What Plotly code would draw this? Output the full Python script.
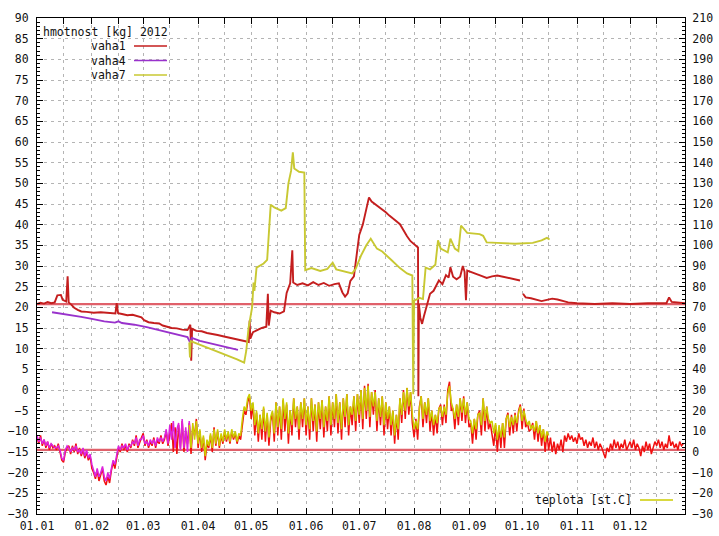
import pandas as pd
import plotly.graph_objects as go

START = pd.Timestamp("2012-01-01")
END = pd.Timestamp("2013-01-01")

# ---- hive weights [kg], left axis (day of year -> kg) ----
w1_day = [0, 2, 4, 6, 8, 10, 11.5, 13.5, 14.5, 16.5, 17.3, 17.9, 19.5, 21, 23, 25, 28, 32, 36, 40,
          44.3, 45.0, 45.8, 48, 51, 54, 57, 59, 60.5, 63, 66, 69, 71, 73, 76, 79, 82, 85, 86.6, 87.1,
          87.6, 90, 93, 96, 99, 102, 105, 108, 111, 114, 117, 119.6, 120.1, 120.5, 122, 124.5, 127,
          129.5, 130.4, 130.9, 132, 134, 137, 139.5, 141, 143, 144.2, 144.7, 147, 150, 153, 156, 159,
          162, 165, 168, 170.5, 172.5, 174, 175.5, 177, 179, 180.5, 182, 184, 186, 187.5, 189, 191,
          193, 195, 197, 199, 201, 203, 205, 207, 209, 211, 213, 215.2, 215.4, 215.7, 216.5, 217.5,
          218.5, 219.5, 221, 222, 224, 225, 227, 229, 231, 232.5, 233.5, 235, 237, 239, 240.5, 241.5,
          242.3, 243, 245, 248, 251, 254, 257, 260, 263, 266, 269, 272.8, 273.6, 274.5, 276, 279, 282,
          285, 288, 291, 294, 297, 300, 305, 315, 325, 335, 345, 355.5, 357, 358.5, 366]
w1_kg = [20.8, 21.1, 20.9, 21.3, 21.0, 21.2, 22.9, 23.0, 21.8, 21.4, 27.5, 21.2, 20.6, 19.9, 19.4, 19.0,
         18.9, 18.7, 18.8, 18.6, 18.5, 21.0, 18.6, 18.4, 18.1, 18.2, 17.9, 17.6, 16.9, 16.4, 16.2, 16.1,
         15.6, 15.3, 15.0, 14.9, 14.6, 14.5, 15.8, 7.1, 14.8, 14.3, 14.2, 13.8, 13.6, 13.3, 13.0, 12.7,
         12.4, 12.0, 11.7, 11.6, 16.8, 12.4, 14.0, 14.6, 15.0, 15.3, 23.3, 15.6, 19.2, 18.8, 18.5, 19.0,
         23.5, 25.8, 33.8, 26.0, 25.4, 25.8, 25.3, 26.1, 25.4, 25.9, 25.2, 25.6, 25.8, 23.6, 22.6, 23.4,
         26.4, 27.5, 32.0, 37.5, 40.0, 44.0, 46.6, 45.6, 45.0, 44.2, 43.6, 43.0, 42.2, 41.6, 40.8, 40.1,
         38.6, 37.2, 36.0, 35.2, 34.5, -1.5, 20.8, 17.5, 16.0, 17.8, 19.3, 21.5, 23.3, 24.0, 24.8, 26.5,
         25.6, 27.8, 27.2, 29.7, 27.4, 26.8, 27.4, 30.0, 28.6, 21.7, 28.9, 28.6, 28.2, 27.6, 27.1, 27.5,
         27.7, 27.4, 27.0, 26.8, 26.5, None, 23.3, 22.4, 22.2, 21.9, 21.5, 21.8, 22.1, 21.9, 21.5, 21.2,
         21.0, 20.8, 21.0, 20.8, 21.0, 21.0, 22.4, 21.3, 21.0]

w4_day = [8.5, 12, 18, 25, 31, 38, 44, 46, 48, 55, 62, 68, 74, 80, 85, 86.4, 87.5, 92, 98, 104, 110, 113.5]
w4_kg = [18.8, 18.6, 18.2, 17.7, 17.2, 16.6, 16.3, 16.6, 16.2, 15.8, 15.2, 14.6, 14.0, 13.4, 12.8, 11.6,
         12.6, 11.9, 11.3, 10.7, 10.1, 9.7]

w7_day = [86.0, 86.4, 86.8, 88, 92, 97, 103, 108, 113, 117, 118.2, 119.5, 121.5, 122.3, 122.8, 124, 128,
          130, 132, 134, 138, 140.5, 142, 143.5, 144.5, 145.3, 148, 151, 151.5, 155, 160, 164, 167, 169,
          174, 178, 180, 183, 186, 188.5, 192, 195, 200, 205, 209, 212, 212.5, 213, 216, 218, 219.5, 222,
          225, 226.5, 228, 232, 233.5, 236, 238, 239.5, 243, 250, 252, 254, 260, 270, 280, 285, 288, 289.5]
w7_kg = [11.5, 7.9, 11.8, 11.6, 10.8, 10.0, 9.0, 8.2, 7.4, 6.6, 9.5, 15.0, 20.0, 26.0, 24.0, 29.6, 30.6,
         31.5, 44.8, 44.2, 43.4, 44.0, 50.0, 53.0, 57.5, 53.6, 52.8, 52.6, 29.0, 29.5, 28.8, 29.3, 30.8,
         29.2, 28.7, 28.2, 29.3, 32.5, 35.0, 36.6, 34.2, 33.5, 31.5, 29.5, 28.2, 27.7, -1.0, 21.6, 22.3,
         22.0, 29.6, 29.2, 30.3, 36.2, 34.2, 33.3, 36.6, 34.2, 33.6, 39.8, 38.0, 37.7, 37.3, 35.7, 35.6,
         35.4, 35.6, 36.2, 36.8, 36.4]

# reference levels on the weight axis
ref_levels = [20.8, -14.5]

# ---- temperatures [st.C], right axis, one reading per day ----
t1_start = 0
t1_c = [7, 4, 8, 3, 6, 2, 5, 1, 4, 2,
        3, 1, 4, 0, -4, -5, 0, 2, 3, -1,
        3, 0, 4, -1, 2, -2, 1, -3, 0, -4,
        -2, -8, -10, -13, -9, -14, -11, -8, -14, -16,
        -12, -15, -9, -5, -8, -3, 2, 0, 4, 1,
        3, 0, 4, 2, 6, 3, 8, 2, 5, 7,
        9, 3, 6, 2, 5, 3, 7, 2, 6, 4,
        8, 4, 6, 10, 3, 9, 14, 0, 12, -1,
        13, 2, 15, 0, 10, 4, 14, -1, 12, 8,
        16, 2, 10, 0, 7, -4, 4, 2, 8, 0,
        12, 3, 10, 2, 8, 4, 10, 5, 9, 4,
        10, 6, 9, 4, 8, 6, 14, 20, 18, 24,
        27, 16, 23, 8, 19, 5, 18, 6, 21, 5,
        18, 3, 15, 19, 5, 24, 8, 22, 6, 25,
        10, 23, 4, 20, 8, 26, 12, 22, 6, 24,
        12, 26, 8, 22, 6, 26, 10, 23, 5, 24,
        11, 25, 7, 22, 10, 27, 8, 24, 12, 28,
        9, 24, 6, 26, 12, 28, 8, 22, 13, 27,
        10, 28, 14, 30, 11, 32, 16, 33, 12, 29,
        18, 30, 10, 26, 13, 27, 8, 24, 11, 22,
        8, 20, 4, 18, 6, 26, 14, 30, 16, 31,
        18, 29, 14, 7, 16, 6, 22, 27, 12, 24,
        14, 26, 10, 20, 8, 18, 9, 21, 23, 13,
        23, 14, 30, 34, 20, 21, 11, 23, 13, 26,
        15, 27, 14, 24, 12, 14, 4, 16, 6, 18,
        20, 8, 26, 10, 22, 11, 14, 9, 3, 13,
        0, 12, 2, 14, 2, 16, 19, 8, 18, 9,
        19, 10, 20, 23, 11, 21, 12, 14, 10, 11,
        14, 6, 15, 5, 13, 3, 11, 0, 9, 1,
        7, 0, 5, -1, 4, 1, 6, 0, 8, 5,
        9, 6, 8, 5, 7, 4, 9, 6, 7, 3,
        6, 2, 5, 3, 7, 2, 5, 1, 4, 2,
        -1, -3, 2, 0, 4, 1, 6, 2, 5, 1,
        4, 2, 6, 1, 3, 5, 2, 6, 1, 4,
        2, -2, 3, 0, 5, 1, 4, -1, 2, 5,
        3, 6, 2, 5, 1, 4, 2, 8, 3, 5,
        2, 4, 1, 5, 3, 4]

t4_start = 0
t4_c = [8, 5, 7, 4, 6, 3, 5, 2, 4, 3,
        2, 2, 3, 1, -3, -4, 1, 3, 2, 0,
        2, 1, 3, 0, 1, -1, 2, -2, 1, -3,
        -1, -6, -9, -12, -8, -12, -10, -7, -12, -14,
        -10, -13, -8, -4, -6, -2, 3, 1, 3, 2,
        4, 1, 3, 3, 5, 4, 7, 3, 6, 6,
        8, 4, 5, 3, 6, 4, 6, 3, 7, 5,
        7, 5, 7, 11, 4, 13, 6, 15, 2, 11,
        14, 1, 16, 2, 12, 0, 15, 3, 10]

t7_start = 86
t7_c = [13, 2, 14, 6,
        15, 4, 11, 2, 8, -2, 6, 3, 9, 2,
        11, 4, 11, 3, 9, 5, 11, 6, 10, 5,
        11, 7, 10, 5, 9, 8, 16, 22, 20, 26,
        28, 20, 24, 13, 20, 9, 18, 11, 22, 10,
        19, 7, 17, 20, 9, 24, 12, 22, 11, 26,
        16, 24, 9, 20, 13, 26, 16, 22, 11, 24,
        16, 26, 13, 22, 11, 26, 15, 23, 10, 24,
        16, 25, 12, 22, 15, 27, 13, 24, 16, 28,
        14, 24, 11, 26, 17, 28, 13, 22, 18, 27,
        15, 28, 18, 30, 16, 31, 20, 32, 17, 29,
        22, 29, 15, 26, 17, 27, 13, 24, 16, 22,
        13, 20, 8, 18, 11, 26, 18, 29, 20, 31,
        22, 29, 18, 11, 15, 11, 21, 27, 16, 24,
        18, 26, 15, 20, 13, 18, 14, 21, 22, 17,
        22, 18, 28, 32, 24, 21, 16, 23, 17, 26,
        19, 26, 18, 24, 16, 15, 9, 16, 11, 18,
        19, 13, 26, 15, 22, 16, 14, 15, 9, 14,
        6, 13, 7, 14, 7, 16, 18, 12, 17, 13,
        18, 14, 19, 22, 15, 20, 16, 13, 15, 11,
        13, 10, 15, 9, 13, 7, 11, 5, 10, 8]

month_labels = ["01.01", "01.02", "01.03", "01.04", "01.05", "01.06",
                "01.07", "01.08", "01.09", "01.10", "01.11", "01.12"]

# colours
C_W1, C_W4, C_W7 = "#c41e1e", "#9932cc", "#c8c832"
C_T1, C_T4, C_T7 = "#f01010", "#dd22dd", "#cccc00"
C_REF = "#e0606a"
FONT = "DejaVu Sans Mono"


def dates(days):
    return [START + pd.Timedelta(days=d) for d in days]


def daily(start, values):
    return [START + pd.Timedelta(days=start + i) for i in range(len(values))]


fig = go.Figure()

for lvl in ref_levels:
    fig.add_trace(go.Scatter(x=[START, END], y=[lvl, lvl], mode="lines",
                             line=dict(color=C_REF, width=2.2), hoverinfo="skip"))

fig.add_trace(go.Scatter(x=dates(w1_day), y=w1_kg, mode="lines", name="vaha1",
                         line=dict(color=C_W1, width=1.9), connectgaps=False))
fig.add_trace(go.Scatter(x=dates(w4_day), y=w4_kg, mode="lines", name="vaha4",
                         line=dict(color=C_W4, width=1.9)))
fig.add_trace(go.Scatter(x=dates(w7_day), y=w7_kg, mode="lines", name="vaha7",
                         line=dict(color=C_W7, width=1.9)))

fig.add_trace(go.Scatter(x=daily(t1_start, t1_c), y=t1_c, mode="lines", yaxis="y2",
                         line=dict(color=C_T1, width=1.5)))
fig.add_trace(go.Scatter(x=daily(t4_start, t4_c), y=t4_c, mode="lines", yaxis="y2",
                         line=dict(color=C_T4, width=1.5)))
fig.add_trace(go.Scatter(x=daily(t7_start, t7_c), y=t7_c, mode="lines", yaxis="y2",
                         line=dict(color=C_T7, width=1.5)))

# plot area geometry in pixels
W, H = 719, 536
L, R, T, B = 37, 34, 18, 22
PW, PH = W - L - R, H - T - B


def px(x):
    return (x - L) / PW


def py(y):
    return (H - B - y) / PH


month_starts = [pd.Timestamp(2012, m, 1) for m in range(1, 13)]
mid_months = [pd.Timestamp(2012, m, 16) for m in range(1, 13)]

grid = dict(showgrid=True, gridcolor="#b4b4b4", gridwidth=1, griddash="3px,4px")

fig.update_layout(
    width=W, height=H,
    margin=dict(l=L, r=R, t=T, b=B, autoexpand=False),
    paper_bgcolor="white", plot_bgcolor="white",
    showlegend=False,
    font=dict(family=FONT, size=11.5, color="#111111"),
    xaxis=dict(type="date", range=[START, END], automargin=False,
               tickmode="array", tickvals=month_starts, ticktext=month_labels,
               ticks="inside", ticklen=6, tickcolor="black", ticklabelstandoff=1,
               showline=True, linecolor="black", linewidth=1, mirror="ticks",
               zeroline=False,
               minor=dict(tickmode="array", tickvals=mid_months, ticks="inside", ticklen=6,
                          tickcolor="black", **grid),
               **grid),
    yaxis=dict(range=[-30, 90], dtick=5, tick0=0, automargin=False,
               ticks="inside", ticklen=6, tickcolor="black", ticklabelstandoff=5,
               showline=True, linecolor="black", linewidth=1, mirror=True,
               zeroline=False,
               minor=dict(dtick=1, ticks="inside", ticklen=3, tickcolor="black", showgrid=False),
               **grid),
    yaxis2=dict(range=[-30, 210], dtick=10, tick0=0, overlaying="y", side="right",
                automargin=False,
                ticks="inside", ticklen=6, tickcolor="black", ticklabelstandoff=4,
                showline=True, linecolor="black", linewidth=1,
                showgrid=False, zeroline=False,
                minor=dict(dtick=2, ticks="inside", ticklen=3, tickcolor="black", showgrid=False)),
)

# key for the weights (top left)
fig.add_annotation(x=px(41), y=py(32), xref="paper", yref="paper", text="hmotnost [kg] 2012",
                   showarrow=False, xanchor="left", yanchor="middle")
for i, (name, col) in enumerate([("vaha1", C_W1), ("vaha4", C_W4), ("vaha7", C_W7)]):
    yy = 46 + i * 14.5
    fig.add_annotation(x=px(128), y=py(yy), xref="paper", yref="paper", text=name,
                       showarrow=False, xanchor="right", yanchor="middle")
    fig.add_shape(type="line", xref="paper", yref="paper", x0=px(134), x1=px(167),
                  y0=py(yy), y1=py(yy), line=dict(color=col, width=1.6))

# key for the temperatures (bottom right)
fig.add_annotation(x=px(634), y=py(500), xref="paper", yref="paper", text="teplota [st.C]",
                   showarrow=False, xanchor="right", yanchor="middle")
fig.add_shape(type="line", xref="paper", yref="paper", x0=px(640), x1=px(673),
              y0=py(500), y1=py(500), line=dict(color=C_T7, width=1.6))

fig.write_html("out.html")
